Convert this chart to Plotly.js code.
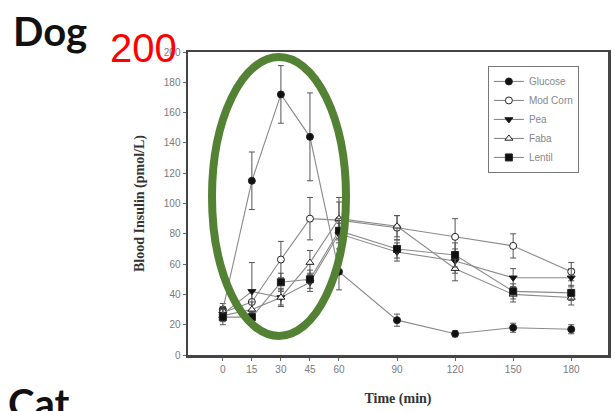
<!DOCTYPE html>
<html>
<head>
<meta charset="utf-8">
<script src="https://cdn.plot.ly/plotly-3.0.1.min.js"></script>
<style>
  html, body { margin: 0; padding: 0; background: #fff; }
  #chart { width: 615px; height: 411px; }
</style>
</head>
<body>
<div id="chart"></div>
<script>
// Sampling times (min)
const times = [0, 15, 30, 45, 60, 90, 120, 150, 180];
const timeTicks = [0, 15, 30, 45, 60, 90, 120, 150, 180];
const insulinTicks = [0, 20, 40, 60, 80, 100, 120, 140, 160, 180, 200];

// Mean blood insulin (pmol/L) per diet, with SEM
const glucose     = [30, 115, 172, 144, 55, 23, 14, 18, 17];
const glucoseErr  = [4, 19, 19, 29, 12, 4, 2, 3, 3];
const modCorn     = [28, 35, 63, 90, 89, 84, 78, 72, 55];
const modCornErr  = [4, 7, 12, 14, 12, 8, 12, 8, 6];
const pea         = [27, 42, 38, 48, 80, 68, 62, 51, 51];
const peaErr      = [4, 19, 6, 6, 10, 6, 8, 6, 6];
const faba        = [26, 30, 38, 61, 90, 85, 57, 40, 38];
const fabaErr     = [4, 5, 5, 8, 14, 7, 8, 5, 5];
const lentil      = [25, 25, 48, 50, 82, 70, 66, 42, 41];
const lentilErr   = [5, 4, 6, 6, 8, 6, 8, 5, 5];

const seriesNames = ['Glucose', 'Mod Corn', 'Pea', 'Faba', 'Lentil'];

// hollow = white fill with a dark outline
function series(name, y, err, symbol, hollow, size) {
  return {
    type: 'scatter',
    mode: 'lines+markers',
    name: name,
    x: times,
    y: y,
    error_y: { type: 'data', array: err, visible: true, color: '#555', thickness: 1, width: 3 },
    line: { color: '#8a8a8a', width: 1.1 },
    marker: {
      symbol: symbol,
      size: size,
      color: hollow ? '#fff' : '#111',
      line: { color: '#222', width: 1 }
    }
  };
}

const data = [
  series(seriesNames[0], glucose, glucoseErr, 'circle', false, 7),
  series(seriesNames[1], modCorn, modCornErr, 'circle', true, 7),
  series(seriesNames[2], pea, peaErr, 'triangle-down', false, 7),
  series(seriesNames[3], faba, fabaErr, 'triangle-up', true, 7),
  series(seriesNames[4], lentil, lentilErr, 'square', false, 7)
];

const axisFont = { family: 'Liberation Sans, Arial, sans-serif', size: 10, color: '#7a7a7a' };
const titleFont = { family: 'Liberation Serif, Times New Roman, serif', size: 14, color: '#333', weight: 'bold' };

const layout = {
  width: 615,
  height: 411,
  margin: { l: 188, r: 7, t: 52, b: 56 },
  paper_bgcolor: '#fff',
  plot_bgcolor: '#fff',
  showlegend: true,
  legend: {
    x: 0.714, y: 0.954, xanchor: 'left', yanchor: 'top',
    bordercolor: '#777', borderwidth: 1, bgcolor: '#fff',
    font: { family: 'Liberation Sans, Arial, sans-serif', size: 10, color: '#888' },
    tracegroupgap: 0, itemwidth: 30
  },
  xaxis: {
    range: [-18, 199],
    tickvals: timeTicks,
    ticktext: timeTicks.map(String),
    ticks: 'outside', ticklen: 3, tickcolor: '#666', tickwidth: 1,
    tickfont: axisFont,
    showgrid: false, zeroline: false,
    showline: true, linecolor: '#444', linewidth: 2.5, mirror: true,
    title: { text: 'Time (min)', font: titleFont, standoff: 20 }
  },
  yaxis: {
    range: [0, 200],
    tickvals: insulinTicks,
    ticks: 'outside', ticklen: 3, tickcolor: '#666', tickwidth: 1,
    tickfont: axisFont,
    showgrid: false, zeroline: false,
    showline: true, linecolor: '#444', linewidth: 2.5, mirror: true,
    title: { text: 'Blood Insulin (pmol/L)', font: titleFont, standoff: 16 }
  },
  shapes: [
    {
      type: 'circle', xref: 'paper', yref: 'paper',
      x0: (212 - 188) / 420, x1: (346 - 188) / 420,
      y0: (355 - 336) / 303, y1: (355 - 57) / 303,
      line: { color: '#548235', width: 8 },
      fillcolor: 'rgba(0,0,0,0)'
    }
  ],
  annotations: [
    {
      text: '<b>Dog</b>', xref: 'paper', yref: 'paper',
      x: (11 - 188) / 420, y: (355 - 31) / 303, xanchor: 'left', yanchor: 'middle',
      showarrow: false, font: { family: 'Lato, Liberation Sans, sans-serif', size: 40, color: '#111' }
    },
    {
      text: '200', xref: 'paper', yref: 'paper',
      x: (108 - 188) / 420, y: (355 - 48) / 303, xanchor: 'left', yanchor: 'middle',
      showarrow: false, font: { family: 'Liberation Sans, Arial, sans-serif', size: 40, color: '#ff0000' }
    },
    {
      text: '<b>Cat</b>', xref: 'paper', yref: 'paper',
      x: (6 - 188) / 420, y: (355 - 403) / 303, xanchor: 'left', yanchor: 'middle',
      showarrow: false, font: { family: 'Lato, Liberation Sans, sans-serif', size: 40, color: '#111' }
    }
  ]
};

Plotly.newPlot('chart', data, layout, { staticPlot: true });
</script>
</body>
</html>
